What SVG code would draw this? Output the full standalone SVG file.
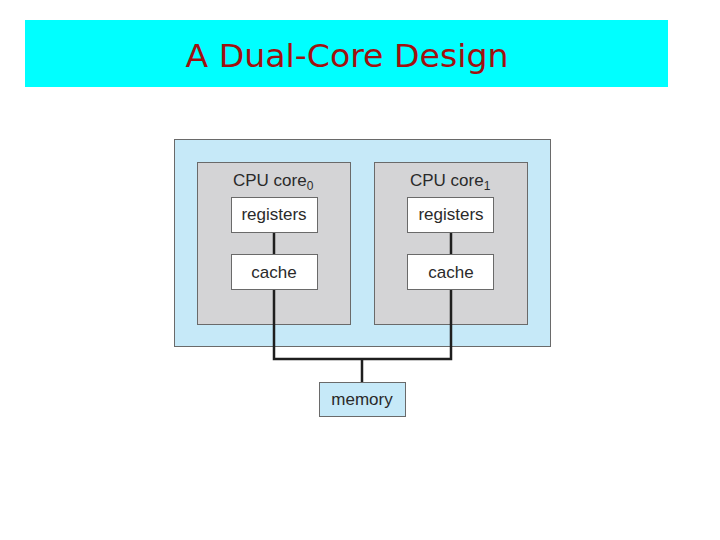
<svg xmlns="http://www.w3.org/2000/svg" width="720" height="540" viewBox="0 0 720 540">
<style>
.lbl{font-family:"Liberation Sans",Arial,sans-serif;font-size:17px;fill:#2a2a2a;text-anchor:middle}
.core{fill:#d4d4d6;stroke:#6a6a6a;stroke-width:1}
.wbox{fill:#ffffff;stroke:#6a6a6a;stroke-width:1}
.wire{stroke:#1e1e1e;stroke-width:2.5;fill:none}
</style>
<rect x="0" y="0" width="720" height="540" fill="#ffffff"/>
<g id="title">
<rect x="25" y="20" width="643" height="67" fill="#00ffff"/>
<text x="347" y="67" font-family="'Comic Sans MS','DejaVu Sans',sans-serif" font-size="32" fill="#a01010" text-anchor="middle" textLength="323" lengthAdjust="spacingAndGlyphs">A Dual-Core Design</text>
</g>
<g id="chip">
<rect x="174.5" y="139.5" width="376" height="207" fill="#c6e9f8" stroke="#6a6a6a"/>
</g>
<g id="core0">
<rect class="core" x="197.5" y="162.5" width="153" height="162"/>
<text x="233" y="186" font-family="'Liberation Sans',Arial,sans-serif" font-size="17" fill="#2a2a2a">CPU core<tspan font-size="12" dy="4">0</tspan></text>
</g>
<g id="core1">
<rect class="core" x="374.5" y="162.5" width="153" height="162"/>
<text x="410" y="186" font-family="'Liberation Sans',Arial,sans-serif" font-size="17" fill="#2a2a2a">CPU core<tspan font-size="12" dy="4">1</tspan></text>
</g>
<g id="connectors">
<path class="wire" d="M274 232 V254 M451 232 V254 M274 289 V359 H451 V289 M362 359 V382"/>
</g>
<g id="registers0">
<rect class="wbox" x="231.5" y="197.5" width="86" height="35"/>
<text class="lbl" x="274" y="220">registers</text>
</g>
<g id="cache0">
<rect class="wbox" x="231.5" y="254.5" width="86" height="35"/>
<text class="lbl" x="274" y="278">cache</text>
</g>
<g id="registers1">
<rect class="wbox" x="407.5" y="197.5" width="86" height="35"/>
<text class="lbl" x="451" y="220">registers</text>
</g>
<g id="cache1">
<rect class="wbox" x="407.5" y="254.5" width="86" height="35"/>
<text class="lbl" x="451" y="278">cache</text>
</g>
<g id="memory">
<rect x="319.5" y="382.5" width="86" height="34" fill="#c6e9f8" stroke="#6a6a6a"/>
<text class="lbl" x="362" y="405">memory</text>
</g>
</svg>
